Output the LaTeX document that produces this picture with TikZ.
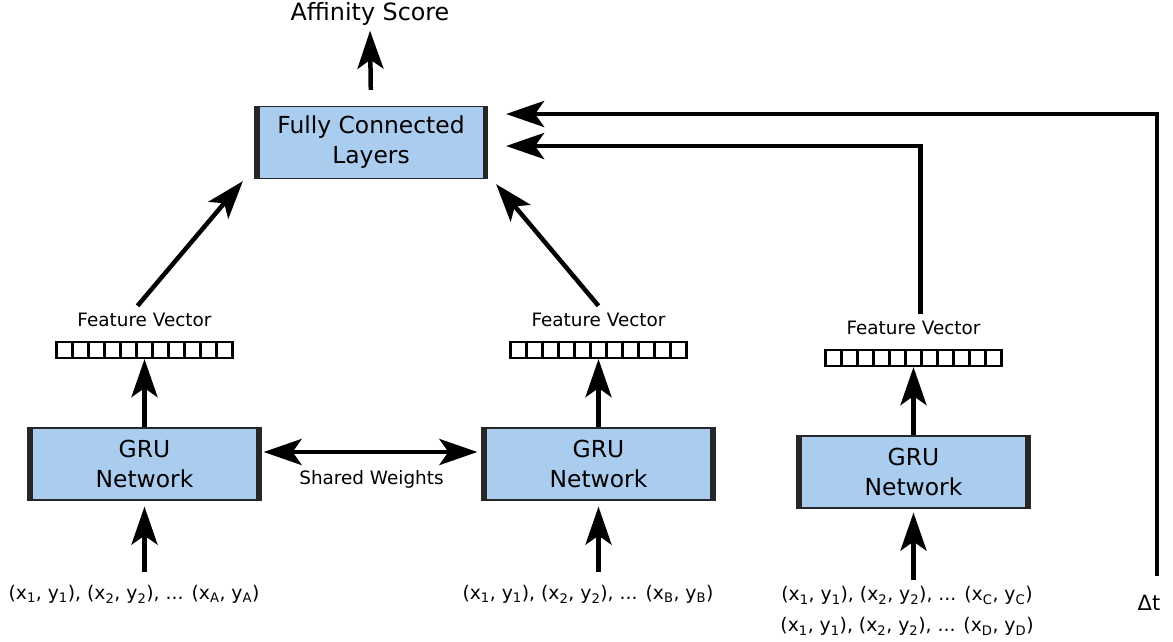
\documentclass[tikz,border=0pt]{standalone}
\usepackage{fontspec}
\setmainfont{DejaVu Sans}
\usetikzlibrary{arrows.meta,positioning}

\definecolor{netblue}{RGB}{170,204,238}
\newcommand{\seq}[1]{(x\textsubscript{1}, y\textsubscript{1}), (x\textsubscript{2}, y\textsubscript{2}), ... (x\textsubscript{#1}, y\textsubscript{#1})}

\begin{document}
\begin{tikzpicture}[x=1pt,y=-1pt,
    layer/.style={draw=black!85,line width=1.2pt,fill=netblue,minimum width=233pt,minimum height=72pt,
      inner sep=0pt,align=center,font=\fontsize{23.4}{30}\selectfont,
      path picture={\draw[line width=10pt]
        (path picture bounding box.north west) -- (path picture bounding box.south west)
        (path picture bounding box.north east) -- (path picture bounding box.south east);}},
    fvec/.style={draw,line width=2.2pt,minimum width=176pt,minimum height=16pt,inner sep=0pt,
      path picture={\foreach \i in {1,...,10}
        \draw[line width=2.2pt] ([xshift=\i*16pt]path picture bounding box.north west)
          -- ([xshift=\i*16pt]path picture bounding box.south west);}},
    lbl/.style={inner sep=1pt,font=\fontsize{18.4}{20}\selectfont},
    inp/.style={inner sep=1pt,align=center,font=\fontsize{18.8}{31}\selectfont},
    arr/.style={line width=4.5pt,-{Stealth[length=38pt,width=26pt,inset=9pt]}},
    arrs/.style={line width=4.5pt,{Stealth[length=38pt,width=26pt,inset=9pt]}-{Stealth[length=38pt,width=26pt,inset=9pt]}}]
  \useasboundingbox (0,0) rectangle (1173,641);

  % top
  \node[layer] (fc) at (371,142.5) {Fully Connected\\Layers};
  \node[inner sep=1pt,font=\fontsize{23.8}{26}\selectfont] (score) at (370,14) {Affinity Score};

  % the three GRU branches
  \node[layer] (gruA) at (144.5,464) {GRU\\Network};
  \node[layer] (gruB) at (598.5,464) {GRU\\Network};
  \node[layer] (gruC) at (913.5,472) {GRU\\Network};

  \node[fvec] (vecA) at (144.5,350) {};
  \node[fvec] (vecB) at (598.5,350) {};
  \node[fvec] (vecC) at (913.5,358) {};

  \node[lbl] (fvA) [above=13pt of vecA] {Feature Vector};
  \node[lbl] (fvB) [above=13pt of vecB] {Feature Vector};
  \node[lbl] (fvC) [above=13pt of vecC] {Feature Vector};

  \node[inp] (inA) at (134,594) {\seq{A}};
  \node[inp] (inB) at (588,594) {\seq{B}};
  \node[inp] (inC) at (907,611) {\seq{C}\\\seq{D}};
  \node[inner sep=1pt,font=\fontsize{21}{24}\selectfont] (dt) at (1149,603) {Δt};

  % connectors
  \draw[arr,shorten <=16pt] (fc.north) -- ([yshift=-4pt]score.south);
  \foreach \g/\v in {gruA/vecA,gruB/vecB,gruC/vecC}
    \draw[arr] (\g.north) -- (\v.south);
  \draw[arr,shorten <=12pt,shorten >=6pt] (inA.north -| gruA.south) -- (gruA.south);
  \draw[arr,shorten <=12pt,shorten >=6pt] (inB.north -| gruB.south) -- (gruB.south);
  \draw[arr,shorten <=5pt,shorten >=4pt] (inC.north -| gruC.south) -- (gruC.south);
  \draw[arrs,shorten <=2pt,shorten >=4pt] ([yshift=12pt]gruA.east) -- ([yshift=12pt]gruB.west)
    node[lbl,midway,below=15pt] (shw) {Shared Weights};
  \draw[arr] ([xshift=-7pt,yshift=6pt]fvA.north) -- ([xshift=-11pt,yshift=-2pt]fc.south west);
  \draw[arr] ([yshift=6pt]fvB.north) -- ([xshift=8pt,yshift=-5pt]fc.south east);
  \draw[arr] ([xshift=7pt,yshift=6pt]fvC.north) |- ([xshift=18pt,yshift=-3.5pt]fc.east);
  \draw[arr,line cap=rect] ([xshift=8pt,yshift=20pt]dt.north) |- ([xshift=18pt,yshift=28.5pt]fc.east);
\end{tikzpicture}
\end{document}
